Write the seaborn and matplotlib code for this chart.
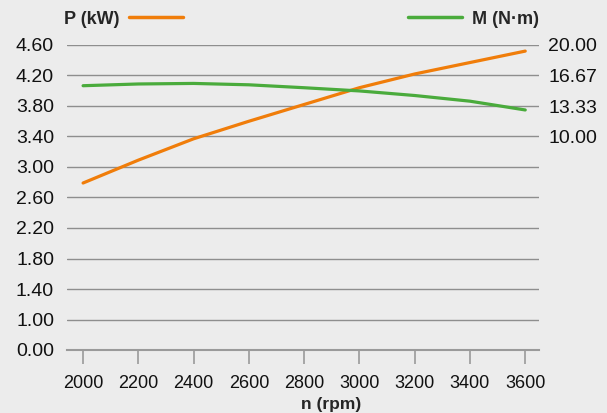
import numpy as np
import pandas as pd
import matplotlib.pyplot as plt
from matplotlib.lines import Line2D
import seaborn as sns

# values
rpm = [2000, 2200, 2400, 2600, 2800, 3000, 3200, 3400, 3600]
power_kw = [2.79, 3.09, 3.37, 3.60, 3.82, 4.04, 4.22, 4.37, 4.52]
torque_nm = [15.55, 15.74, 15.80, 15.65, 15.33, 14.98, 14.48, 13.86, 12.90]

left_ticks = [0.0, 1.0, 1.4, 1.8, 2.2, 2.6, 3.0, 3.4, 3.8, 4.2, 4.6]
right_ticks = [10.0, 13.33, 16.67, 20.0]
x_ticks = rpm

ORANGE = "#f07d0a"
GREEN = "#4aab3c"
BG = "#ececec"
GRID = "#8e8e8e"

sns.set_style("white", rc={"axes.facecolor": BG, "figure.facecolor": BG,
                           "xtick.bottom": True})
plt.rcParams["font.family"] = ["Liberation Sans", "DejaVu Sans"]

df = pd.DataFrame({"n": rpm, "P": power_kw, "M": torque_nm})


# left axis is broken: 0..1 squeezed into one step, then 0.4 per step
def fwd(v):
    v = np.asarray(v, dtype=float)
    return np.where(v < 1.0, v, 1.0 + (v - 1.0) / 0.4)


def inv(p):
    p = np.asarray(p, dtype=float)
    return np.where(p < 1.0, p, 1.0 + (p - 1.0) * 0.4)


fig = plt.figure(figsize=(6.07, 4.13), dpi=100)
ax = fig.add_axes([66.5 / 607, 1 - 350 / 413, 472 / 607, 305 / 413])
ax.set_yscale("function", functions=(fwd, inv))
ax.set_ylim(0, 4.6)
ax.set_xlim(1940, 3648)

ax2 = ax.twinx()
# pos 0..10 on the left  <->  -13.33..20 on the right
ax2.set_ylim(-40 / 3, 20)

sns.lineplot(data=df, x="n", y="P", ax=ax, color=ORANGE, lw=2.3)
sns.lineplot(data=df, x="n", y="M", ax=ax2, color=GREEN, lw=2.3)

ax.set_yticks(left_ticks)
ax.set_yticklabels([f"{t:.2f}" for t in left_ticks])
ax.yaxis.set_minor_locator(plt.NullLocator())
ax2.set_yticks(right_ticks)
ax2.set_yticklabels([f"{t:.2f}" for t in right_ticks])
ax.set_xticks(x_ticks)
ax.set_xticklabels([str(t) for t in x_ticks])

ax.grid(axis="y", color=GRID, lw=1.0)
ax.set_axisbelow(True)
for s in ["top", "left", "right"]:
    ax.spines[s].set_visible(False)
ax.spines["bottom"].set_color("#9a9a9a")
ax.spines["bottom"].set_linewidth(1.5)
for s in ax2.spines.values():
    s.set_visible(False)

ax.tick_params(axis="y", left=False, length=0, pad=9, labelsize=14,
               labelcolor="#111111")
ax2.tick_params(axis="y", right=False, length=0, pad=7, labelsize=14,
                labelcolor="#111111")
ax.tick_params(axis="x", bottom=True, direction="out", length=10, width=1.2,
               color="#9a9a9a", pad=8, labelsize=13, labelcolor="#111111")
ax2.tick_params(axis="x", bottom=False, labelbottom=False)

ax.set_ylabel("")
ax2.set_ylabel("")
ax.set_xlabel("n (rpm)", fontsize=12.5, fontweight="bold")
ax.xaxis.set_label_coords(0.561, -0.155)

leg_kw = dict(frameon=False, borderpad=0, borderaxespad=0, handlelength=2.95,
              handletextpad=0.55, prop={"weight": "bold", "size": 13},
              bbox_transform=fig.transFigure)
leg1 = ax.legend([Line2D([], [], color=ORANGE, lw=2.5)], ["P (kW)"],
                 loc="center left", bbox_to_anchor=(64 / 607, 1 - 19 / 413),
                 markerfirst=False, **leg_kw)
ax2.legend([Line2D([], [], color=GREEN, lw=2.5)], ["M (N·m)"],
           loc="center right", bbox_to_anchor=(538.5 / 607, 1 - 19 / 413),
           **leg_kw)

fig.savefig("out.png", dpi=100, facecolor=BG)
